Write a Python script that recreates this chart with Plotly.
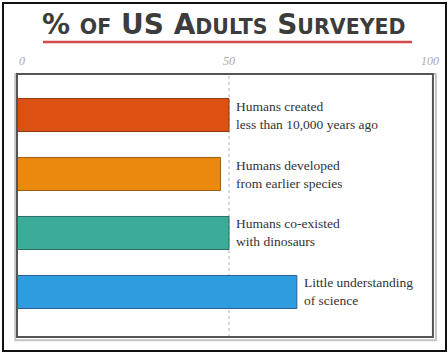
import plotly.graph_objects as go

categories = ["created", "developed", "coexisted", "science"]
values = [50, 48, 50, 66]
labels = [
    "Humans created<br>less than 10,000 years ago",
    "Humans developed<br>from earlier species",
    "Humans co-existed<br>with dinosaurs",
    "Little understanding<br>of science",
]
bar_colors = ["#dc5012", "#e98a0e", "#3cab98", "#2e9de0"]
edge_colors = ["#8a3a10", "#9a6010", "#2a6f66", "#2a5f8f"]
tick_vals = [0, 50, 100]
tick_text = ["0", "50", "100"]

fig = go.Figure()
fig.add_trace(go.Bar(
    x=values, y=categories, orientation="h", width=0.56,
    marker=dict(color=bar_colors, line=dict(color=edge_colors, width=1)),
    hoverinfo="skip",
))

# dotted reference line at 50
fig.add_shape(type="line", xref="x", yref="paper", x0=50, x1=50, y0=0, y1=1,
              line=dict(color="#b0b0b0", width=1, dash="dot"), layer="below")

# labels next to bars
for c, v, t in zip(categories, values, labels):
    fig.add_annotation(x=max(v, 50), y=c, xref="x", yref="y", text=t,
                       showarrow=False, xanchor="left", yanchor="middle", xshift=5,
                       align="left",
                       font=dict(family="Liberation Serif, serif", size=13.5, color="#333333"))

# top tick labels
for v, t in zip(tick_vals, tick_text):
    anchor = "left" if v == 0 else ("right" if v == 100 else "center")
    fig.add_annotation(x=v, y=1.049, xref="x", yref="paper", text=f"<i>{t}</i>", showarrow=False,
                       xanchor=anchor, yanchor="middle",
                       font=dict(family="Liberation Serif, serif", size=12, color="#a8a8a8"))

# title (small caps style)
L, S = 28, 20.5
title = (f'<b><span style="font-size:{L}px">%</span> '
         f'<span style="font-size:{S}px">OF</span> '
         f'<span style="font-size:{L}px">US A</span>'
         f'<span style="font-size:{S}px">DULTS</span> '
         f'<span style="font-size:{L}px">S</span>'
         f'<span style="font-size:{S}px">URVEYED</span></b>')
fig.add_annotation(x=0.488, y=1.19, xref="paper", yref="paper", text=title, showarrow=False,
                   xanchor="center", yanchor="middle",
                   font=dict(family="DejaVu Sans", size=L, color="#3c3c3c"))
# red underline
fig.add_shape(type="line", xref="paper", yref="paper", x0=0.0613, x1=0.9316, y0=1.1217, y1=1.1217,
              line=dict(color="#d24a4a", width=2.5))

# plot box: light shadow + dark frame
fig.add_shape(type="rect", xref="paper", yref="paper", x0=-0.004, x1=0.988, y0=-0.012, y1=1.0,
              line=dict(color="#c4c4c4", width=2))
fig.add_shape(type="rect", xref="paper", yref="paper", x0=0.0, x1=0.981, y0=0.0, y1=1.0,
              line=dict(color="#555555", width=2))
# outer border
fig.add_shape(type="rect", xref="paper", yref="paper", x0=-0.033, x1=1.0118, y0=-0.053, y1=1.27,
              line=dict(color="#111111", width=2))

fig.update_layout(
    width=448, height=354,
    margin=dict(l=17, r=7, t=74, b=17),
    paper_bgcolor="white", plot_bgcolor="white",
    showlegend=False,
    xaxis=dict(range=[0, 100], showgrid=False, zeroline=False, showticklabels=False,
               ticks="", fixedrange=True),
    yaxis=dict(type="category", range=[3.763, -0.695], showgrid=False, zeroline=False,
               showticklabels=False, ticks="", fixedrange=True),
)

fig.write_html("out.html")
